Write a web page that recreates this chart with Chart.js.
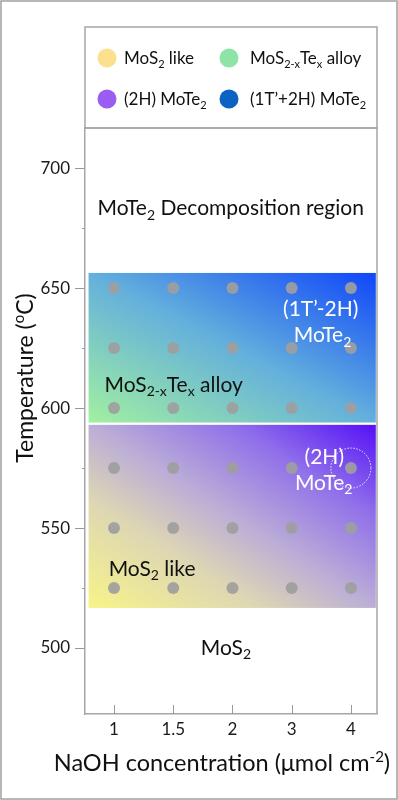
<!DOCTYPE html>
<html>
<head>
<meta charset="utf-8">
<script src="https://cdn.jsdelivr.net/npm/chart.js@4"></script>
<style>
  html, body { margin: 0; padding: 0; background: #fff; }
  #wrap { width: 398px; height: 800px; }
</style>
</head>
<body>
<div id="wrap"><canvas id="phase" width="398" height="800"></canvas></div>
<script>
// NaOH concentration categories (umol cm-2) and sampled growth temperatures (C)
const naohLabels = ['1', '1.5', '2', '3', '4'];
const sampleTemps = [525, 550, 575, 600, 625, 650];
const tempTicks = [500, 550, 600, 650, 700];
const tempMinorTicks = [525, 575, 625, 675];

// phase bands as [low, high] temperature, spanning the NaOH range (category index)
const alloyBand = [593.8, 656.3];
const mos2Band = [516.7, 593];
const bandSpan = [-0.43, 4.42];
const circledSample = ['4', 575];

const FONT = 'Lato, "Open Sans", sans-serif';

const legendItems = [
  { text: 'MoS_{2} like', color: '#fbe08e' },
  { text: 'MoS_{2-x}Te_{x} alloy', color: '#8ee4a6' },
  { text: '(2H) MoTe_{2}', color: '#9b5cf2' },
  { text: '(1T\u2019+2H) MoTe_{2}', color: '#0b62c2' },
];

// labels inside the plot, placed in data units (category index, temperature)
const notes = [
  { text: 'MoTe_{2} Decomposition region', x: 1.97, y: 683.5, color: '#111', align: 'center' },
  { text: '(1T\u2019-2H)', x: 3.49, y: 641.5, color: '#fff', align: 'center' },
  { text: 'MoTe_{2}', x: 3.52, y: 630.5, color: '#fff', align: 'center' },
  { text: 'MoS_{2-x}Te_{x} alloy', x: -0.16, y: 610, color: '#111', align: 'left' },
  { text: '(2H)', x: 3.55, y: 580, color: '#fff', align: 'center' },
  { text: 'MoTe_{2}', x: 3.54, y: 569.2, color: '#fff', align: 'center' },
  { text: 'MoS_{2} like', x: -0.09, y: 533.3, color: '#111', align: 'left' },
  { text: 'MoS_{2}', x: 1.89, y: 500.4, color: '#111', align: 'center' },
];

const samplePoints = naohLabels.flatMap((_, i) => sampleTemps.map(t => ({ x: i, y: t })));

// tiny markup: _{sub} and ^{sup}
function parseRich(str) {
  const parts = [];
  const re = /([_^])\{([^}]*)\}/g;
  let last = 0, m;
  while ((m = re.exec(str))) {
    if (m.index > last) parts.push({ t: str.slice(last, m.index), k: '' });
    parts.push({ t: m[2], k: m[1] });
    last = re.lastIndex;
  }
  if (last < str.length) parts.push({ t: str.slice(last), k: '' });
  return parts;
}

function drawRich(ctx, str, x, y, size, color, align) {
  const parts = parseRich(str);
  const small = Math.round(size * 0.65);
  const fontFor = k => (k ? small : size) + 'px ' + FONT;
  let w = 0;
  parts.forEach(p => { ctx.font = fontFor(p.k); p.w = ctx.measureText(p.t).width; w += p.w; });
  let cx = align === 'center' ? x - w / 2 : align === 'right' ? x - w : x;
  ctx.fillStyle = color;
  ctx.textAlign = 'left';
  ctx.textBaseline = 'alphabetic';
  const base = y + size * 0.36;
  parts.forEach(p => {
    ctx.font = fontFor(p.k);
    const dy = p.k === '_' ? size * 0.22 : p.k === '^' ? -size * 0.42 : 0;
    ctx.fillText(p.t, cx, base + dy);
    cx += p.w;
  });
}

function fillBand(ctx, x, y, band, stops) {
  const left = x.getPixelForValue(bandSpan[0]), right = x.getPixelForValue(bandSpan[1]);
  const top = y.getPixelForValue(band[1]), bottom = y.getPixelForValue(band[0]);
  ctx.save();
  ctx.translate(left, top);
  ctx.scale(right - left, bottom - top);
  const g = ctx.createLinearGradient(0, 1, 1, 0);
  stops.forEach(s => g.addColorStop(s[0], s[1]));
  ctx.fillStyle = g;
  ctx.fillRect(0, 0, 1, 1);
  ctx.restore();
}

const phasePlot = {
  id: 'phasePlot',
  beforeDatasetsDraw(chart) {
    const { ctx, scales: { x, y } } = chart;
    fillBand(ctx, x, y, alloyBand, [[0, '#a2f0a0'], [0.5, '#64b0dc'], [1, '#1046fa']]);
    fillBand(ctx, x, y, mos2Band, [[0, '#f7f488'], [0.3, '#ddd6b4'], [0.5, '#bcaed6'], [0.75, '#9070ea'], [1, '#5510f6']]);
    // dotted edge under the alloy band
    ctx.save();
    ctx.strokeStyle = '#fff';
    ctx.lineWidth = 1.5;
    ctx.setLineDash([1, 1]);
    const yb = y.getPixelForValue(alloyBand[0]);
    ctx.beginPath();
    ctx.moveTo(x.getPixelForValue(bandSpan[0]), yb);
    ctx.lineTo(x.getPixelForValue(bandSpan[1]), yb);
    ctx.stroke();
    ctx.restore();
  },
  afterDatasetsDraw(chart) {
    const { ctx, scales: { x, y } } = chart;
    notes.forEach(n => drawRich(ctx, n.text, x.getPixelForValue(n.x), y.getPixelForValue(n.y), 21, n.color, n.align));
    // dotted ring round the (2H) sample
    ctx.save();
    ctx.strokeStyle = 'rgba(255,255,255,0.85)';
    ctx.lineWidth = 1;
    ctx.setLineDash([1.5, 1.5]);
    ctx.beginPath();
    ctx.arc(x.getPixelForValue(naohLabels.indexOf(circledSample[0])), y.getPixelForValue(circledSample[1]), 20, 0, Math.PI * 2);
    ctx.stroke();
    ctx.restore();
  },
  afterDraw(chart) {
    const { ctx, chartArea: a, scales: { x, y } } = chart;
    ctx.save();
    ctx.strokeStyle = '#a6a6a6';
    ctx.lineWidth = 1.5;
    // top and right frame
    ctx.beginPath();
    ctx.moveTo(a.left, a.top);
    ctx.lineTo(a.right, a.top);
    ctx.lineTo(a.right, a.bottom);
    ctx.stroke();
    // legend box
    ctx.strokeRect(a.left, 27, a.right - a.left, a.top - 27);
    // ticks: x inward, y minor outward
    ctx.lineWidth = 1;
    ctx.strokeStyle = '#999';
    ctx.beginPath();
    naohLabels.forEach((_, i) => {
      const px = Math.round(x.getPixelForValue(i)) + 0.5;
      ctx.moveTo(px, a.bottom);
      ctx.lineTo(px, a.bottom - 9);
    });
    tempMinorTicks.forEach(t => {
      const py = Math.round(y.getPixelForValue(t)) + 0.5;
      ctx.moveTo(a.left - 3, py);
      ctx.lineTo(a.left, py);
    });
    ctx.stroke();
    // outer border
    ctx.strokeStyle = '#a0a0a0';
    ctx.lineWidth = 1.5;
    ctx.strokeRect(1, 1, 396, 798);
    ctx.restore();

    // legend entries
    const cols = [107, 229], textX = [124, 250], rows = [58, 99];
    legendItems.forEach((it, i) => {
      const c = i % 2, r = Math.floor(i / 2);
      ctx.beginPath();
      ctx.fillStyle = it.color;
      ctx.arc(cols[c], rows[r], 9.5, 0, Math.PI * 2);
      ctx.fill();
      drawRich(ctx, it.text, textX[c], rows[r], 17, '#111', 'left');
    });

    // axis titles
    drawRich(ctx, 'NaOH concentration (\u03bcmol cm^{-2})', 222, 763, 23.5, '#111', 'center');
    ctx.save();
    ctx.translate(25, 378);
    ctx.rotate(-Math.PI / 2);
    drawRich(ctx, 'Temperature (^{o}C)', 0, 0, 23, '#111', 'center');
    ctx.restore();
  }
};

new Chart(document.getElementById('phase'), {
  type: 'scatter',
  data: {
    datasets: [{
      data: samplePoints,
      pointRadius: 6,
      pointHoverRadius: 6,
      backgroundColor: 'rgba(158,158,158,0.92)',
      borderWidth: 0
    }]
  },
  options: {
    responsive: false,
    animation: false,
    events: [],
    layout: { padding: { top: 128, right: 21, left: 0, bottom: 0 } },
    plugins: { legend: { display: false }, tooltip: { enabled: false } },
    scales: {
      x: {
        type: 'linear',
        min: -0.49,
        max: 4.44,
        afterBuildTicks: s => { s.ticks = naohLabels.map((_, i) => ({ value: i })); },
        afterFit: s => { s.height = 86; },
        ticks: {
          callback: v => naohLabels[v] ?? '',
          font: { family: FONT, size: 17 },
          color: '#1a1a1a',
          padding: 5,
          maxRotation: 0
        },
        grid: { drawOnChartArea: false, drawTicks: false },
        border: { color: '#a6a6a6', width: 1.5 }
      },
      y: {
        min: 472.5,
        max: 716.7,
        afterBuildTicks: s => { s.ticks = tempTicks.map(v => ({ value: v })); },
        afterFit: s => { s.width = 85; },
        ticks: {
          font: { family: FONT, size: 17 },
          color: '#1a1a1a',
          padding: 5
        },
        grid: { drawOnChartArea: false, drawTicks: true, tickLength: 10, tickColor: '#999' },
        border: { color: '#a6a6a6', width: 1.5 }
      }
    }
  },
  plugins: [phasePlot]
});
</script>
</body>
</html>
